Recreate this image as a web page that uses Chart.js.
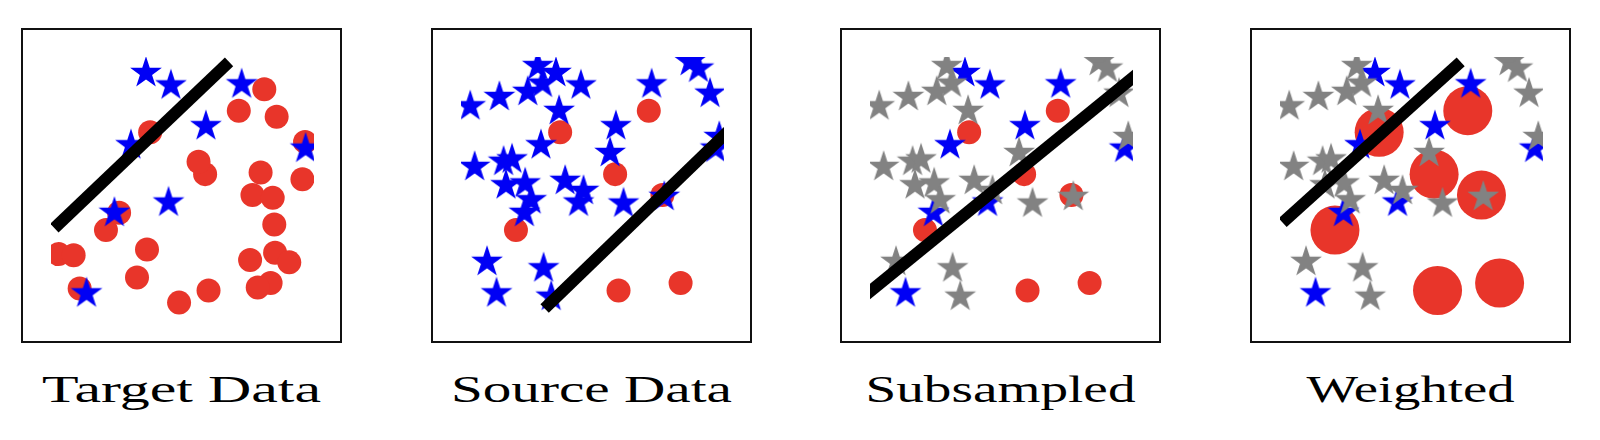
<!DOCTYPE html>
<html><head><meta charset="utf-8">
<script src="https://cdn.jsdelivr.net/npm/chart.js@4.4.0/dist/chart.umd.min.js"></script>
<style>
html,body{margin:0;padding:0;background:#fff;width:1600px;height:440px;overflow:hidden;position:relative;}
canvas.panel{position:absolute;top:28px;}
.title{position:absolute;top:370px;width:321px;text-align:center;font-family:"Liberation Serif",serif;font-size:38px;line-height:38px;color:#000;white-space:nowrap;}
</style></head><body>
<script>
// ---------- data ----------
const panelTitles = ['Target Data', 'Source Data', 'Subsampled', 'Weighted'];

// stars present in the target data (also in the source / subsampled set)
const targetStars = [[3.61,9.38],[4.56,8.90],[7.25,8.94],[5.89,7.32],[3.04,6.58],[9.68,6.45],[2.41,3.96],[4.47,4.36],[1.35,0.84]];
// stars only in the source data (dropped by subsampling)
const extraSourceStars = [[0.35,8.09],[1.46,8.45],[2.54,8.65],[2.92,9.65],[3.10,8.97],[3.73,7.91],[8.71,9.81],[9.03,9.55],[9.47,8.58],[9.82,6.90],
  [0.52,5.74],[1.62,5.94],[1.94,6.03],[1.71,5.03],[2.44,5.10],[3.96,5.20],[4.66,4.81],[2.67,4.45],[5.67,6.28],[6.18,4.32],[7.73,4.58],
  [0.99,2.06],[3.14,1.81],[3.43,0.71]];
// circles present in both target and source data
const sharedCircles = [[3.77,7.08],[7.14,7.92],[5.86,5.46],[7.66,4.65],[2.09,3.29],[5.99,0.95],[8.35,1.24]];
// circles only in the target data
const extraTargetCircles = [[8.11,8.75],[8.58,7.68],[9.66,6.71],[5.61,5.94],[7.97,5.52],[9.56,5.26],[8.43,4.54],[2.59,3.96],[8.49,3.51],
  [0.29,2.36],[0.86,2.32],[3.65,2.54],[7.57,2.13],[8.52,2.41],[9.06,2.04],[3.27,1.45],[1.09,1.03],[4.87,0.48],[7.86,1.07]];
// decision boundaries
const lineTarget = [[0.13,3.37],[6.77,9.81]];
const lineSource = [[3.18,0.25],[10.4,7.36]];
const lineSubsampled = [[-0.3,0.66],[10.3,9.45]];
const lineWeighted = [[0.10,3.58],[6.87,9.81]];

// ---------- drawing ----------
const RED = '#e8352a', BLUE = '#0000f5', GRAY = '#828282';
const titleWidths = [279, 281, 270, 208];
function makeStar(color, R){
  const size = 2*Math.ceil(R)+4;
  const c = document.createElement('canvas'); c.width = size; c.height = size;
  const g = c.getContext('2d');
  const cx = size/2, cy = size/2, r = R*0.381966;
  g.beginPath();
  for (let k=0;k<10;k++){
    const rad = k%2===0 ? R : r;
    const a = -Math.PI/2 + k*Math.PI/5;
    const px = cx + rad*Math.cos(a), py = cy + rad*Math.sin(a);
    if (k===0) g.moveTo(px,py); else g.lineTo(px,py);
  }
  g.closePath(); g.fillStyle = color; g.fill();
  return c;
}
const blueStar = makeStar(BLUE, 16.7);
const grayStar = makeStar(GRAY, 16.7);
const pts = a => a.map(p => ({x:p[0], y:p[1]}));

const panels = [
  {circles: sharedCircles.concat(extraTargetCircles), r: 12, blue: targetStars, gray: [], line: lineTarget},
  {circles: sharedCircles, r: 12, blue: targetStars.concat(extraSourceStars), gray: [], line: lineSource},
  {circles: sharedCircles, r: 12, blue: targetStars, gray: extraSourceStars, line: lineSubsampled},
  {circles: sharedCircles, r: 24.5, blue: targetStars, gray: extraSourceStars, line: lineWeighted}
];
const lefts = [21, 431, 840, 1250];

const frame = {id:'frame', afterDraw(chart){
  const ctx = chart.ctx; ctx.save(); ctx.strokeStyle = '#111'; ctx.lineWidth = 2;
  ctx.strokeRect(1, 1, chart.width-2, chart.height-2); ctx.restore();
}};

const meas = document.createElement('canvas').getContext('2d');
meas.font = '38px "Liberation Serif"';

panels.forEach((p, i) => {
  const cv = document.createElement('canvas');
  cv.className = 'panel'; cv.width = 321; cv.height = 315;
  cv.style.left = lefts[i] + 'px'; cv.style.width = '321px'; cv.style.height = '315px';
  document.body.appendChild(cv);
  new Chart(cv, {
    type: 'scatter',
    data: {datasets: [
      {data: pts(p.line), showLine: true, borderColor: '#000', borderWidth: 12, borderCapStyle: 'butt', pointRadius: 0, clip: 0},
      {data: pts(p.gray), pointStyle: grayStar, pointRadius: 17, clip: 0},
      {data: pts(p.blue), pointStyle: blueStar, pointRadius: 17, clip: 0},
      {data: pts(p.circles), pointStyle: 'circle', pointRadius: p.r, backgroundColor: RED, borderWidth: 0, clip: 0}
    ]},
    options: {
      responsive: false, animation: false, events: [],
      layout: {padding: {left: 30, right: 28, top: 29, bottom: 28}},
      scales: {x: {type: 'linear', min: 0, max: 10, display: false}, y: {type: 'linear', min: 0, max: 10, display: false}},
      plugins: {legend: {display: false}, tooltip: {enabled: false}}
    },
    plugins: [frame]
  });
  const t = document.createElement('div');
  t.className = 'title'; t.textContent = panelTitles[i];
  t.style.left = lefts[i] + 'px';
  const kx = titleWidths[i] / meas.measureText(panelTitles[i]).width;
  t.style.transform = 'scaleX(' + kx + ')';
  document.body.appendChild(t);
});
</script>
</body></html>
